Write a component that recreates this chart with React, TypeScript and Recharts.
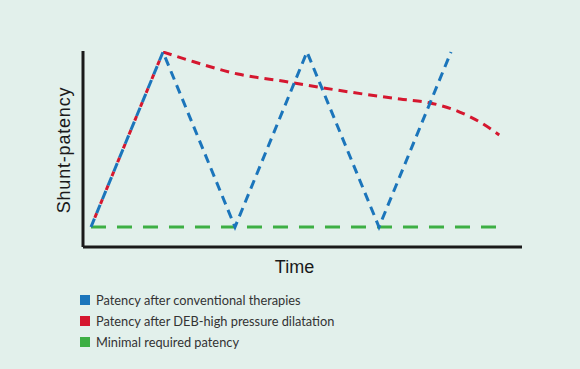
import React from 'react';
import { LineChart, Line, XAxis, YAxis, Legend, Label } from 'recharts';

const conventional = [
  { x: 0, y: 0 },
  { x: 1, y: 100 },
  { x: 2, y: 0 },
  { x: 3, y: 100 },
  { x: 4, y: 0 },
  { x: 5, y: 100 },
];

const debRise = [
  { x: 0, y: 0 },
  { x: 1, y: 100 },
];

const debDecline = [
  { x: 1, y: 100 },
  { x: 1.35, y: 95.4 },
  { x: 2.04, y: 87.4 },
  { x: 2.74, y: 82.9 },
  { x: 3.21, y: 79.6 },
  { x: 4.29, y: 73.1 },
  { x: 4.71, y: 70.9 },
  { x: 5.12, y: 65.7 },
  { x: 5.4, y: 60 },
  { x: 5.67, y: 52.6 },
];

const minimalRequired = [
  { x: 0, y: 0 },
  { x: 5.68, y: 0 },
];

const legendItems = [
  { name: 'Patency after conventional therapies', color: '#1b75bb' },
  { name: 'Patency after DEB-high pressure dilatation', color: '#d5172f' },
  { name: 'Minimal required patency', color: '#3daf44' },
];

const xLabel = 'Time';
const yLabel = 'Shunt-patency';

const LegendContent = () => (
  <div style={{ fontFamily: 'Lato, sans-serif', fontSize: 12.8, color: '#333' }}>
    {legendItems.map((it) => (
      <div key={it.name} style={{ display: 'flex', alignItems: 'center', height: 21 }}>
        <span style={{ width: 10, height: 10, background: it.color, display: 'inline-block', marginRight: 6 }} />
        <span>{it.name}</span>
      </div>
    ))}
  </div>
);

export default function App() {
  return (
    <div style={{ position: 'absolute', left: 0, top: 0, width: 580, height: 369, background: '#e2f0eb' }}>
      <LineChart width={580} height={369} margin={{ top: 51, left: 82, right: 58, bottom: 121 }}>
        <XAxis
          type="number"
          dataKey="x"
          domain={[-0.111, 5.986]}
          allowDataOverflow
          height={1}
          tick={false}
          tickLine={false}
          axisLine={{ stroke: '#1a1a1a', strokeWidth: 3 }}
        >
          <Label
            content={({ viewBox }: any) => (
              <text
                x={viewBox.x + viewBox.width / 2 - 8}
                y={viewBox.y + 26}
                textAnchor="middle"
                fontFamily="'Liberation Sans', Arial, sans-serif"
                fontSize={18}
                fill="#1a1a1a"
              >
                {xLabel}
              </text>
            )}
          />
        </XAxis>
        <YAxis
          type="number"
          domain={[-11.43, 100.57]}
          allowDataOverflow
          width={1}
          tick={false}
          tickLine={false}
          axisLine={{ stroke: '#1a1a1a', strokeWidth: 3 }}
        >
          <Label
            content={({ viewBox }: any) => {
              const cx = viewBox.x + viewBox.width - 13;
              const cy = viewBox.y + 99;
              return (
                <text
                  x={cx}
                  y={cy}
                  transform={`rotate(-90 ${cx} ${cy})`}
                  textAnchor="middle"
                  fontFamily="'Liberation Sans', Arial, sans-serif"
                  fontSize={18}
                  letterSpacing={0.8}
                  fill="#1a1a1a"
                >
                  {yLabel}
                </text>
              );
            }}
          />
        </YAxis>
        <Legend
          layout="vertical"
          align="center"
          verticalAlign="middle"
          content={<LegendContent />}
          wrapperStyle={{ position: 'absolute', left: 80, top: 289, width: 300 }}
        />
        <Line
          data={minimalRequired}
          dataKey="y"
          type="linear"
          stroke="#3daf44"
          strokeWidth={3}
          strokeDasharray="15 11"
          dot={false}
          isAnimationActive={false}
        />
        <Line
          data={debRise}
          dataKey="y"
          type="linear"
          stroke="#d5172f"
          strokeWidth={3}
          strokeDasharray="5 10"
          strokeDashoffset={5}
          dot={false}
          isAnimationActive={false}
          legendType="none"
        />
        <Line
          data={debDecline}
          dataKey="y"
          type="monotone"
          stroke="#d5172f"
          strokeWidth={3}
          strokeDasharray="9 6"
          dot={false}
          isAnimationActive={false}
        />
        <Line
          data={conventional}
          dataKey="y"
          type="linear"
          stroke="#1b75bb"
          strokeWidth={3}
          strokeDasharray="9 6"
          dot={false}
          isAnimationActive={false}
        />
      </LineChart>
    </div>
  );
}
